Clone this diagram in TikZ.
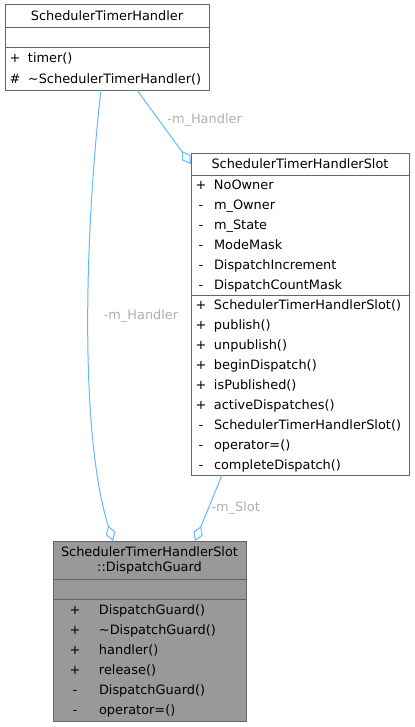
\documentclass[tikz,border=0pt]{standalone}
\usepackage{fontspec}
\setmainfont{DejaVu Sans}
\usepackage{tikz}
\usetikzlibrary{positioning, arrows.meta}

\definecolor{boxline}{HTML}{666666}
\definecolor{guardfill}{HTML}{999999}
\definecolor{edgeblue}{HTML}{63B8FF}
\definecolor{labelgrey}{HTML}{B0B0B0}

\newcommand{\memberfont}{\fontsize{12.9bp}{20bp}\selectfont}
\newcommand{\titlefont}{\fontsize{12.9bp}{15bp}\selectfont}
\newcommand{\mem}[2]{\hspace*{4bp}\makebox[12bp]{#1}\hspace{7bp}#2\strut}
\newcommand{\gmem}[2]{\hspace*{16bp}\makebox[12bp]{#1}\hspace{18bp}#2\strut}

\begin{document}
\begin{tikzpicture}[x=1bp, y=-1bp]
\tikzstyle{part} = [rectangle, draw=boxline, fill=white, line width=1bp, inner sep=0pt, outer sep=0pt, font=\memberfont, align=left]
\tikzstyle{head} = [part, align=center]
\tikzstyle{guardpart} = [part, fill=guardfill]
\tikzstyle{guardhead} = [head, fill=guardfill, font=\titlefont]
\tikzstyle{assoc} = [draw=edgeblue, line width=1bp, -{Diamond[open, length=16bp, width=10bp]}]
\tikzstyle{role} = [font=\memberfont, text=labelgrey, inner sep=0pt, anchor=west]

\useasboundingbox (0,0) rectangle (414,727);

\node (h-title) [head, text width=204bp, minimum height=23bp, anchor=north west] at (5,5) {SchedulerTimerHandler\strut};
\node (h-attr)  [part, text width=204bp, minimum height=20bp, below=0pt of h-title] {};
\node (h-ops)   [part, text width=204bp, minimum height=42bp, below=0pt of h-attr] {\mem{+}{timer()}\\\mem{\#}{\textasciitilde SchedulerTimerHandler()}};

\node (s-title) [head, text width=218bp, minimum height=22bp, anchor=north west] at (191,153) {SchedulerTimerHandlerSlot\strut};
\node (s-attr)  [part, text width=218bp, minimum height=120bp, below=0pt of s-title] {\mem{+}{NoOwner}\\\mem{-}{m\_Owner}\\\mem{-}{m\_State}\\\mem{-}{ModeMask}\\\mem{-}{DispatchIncrement}\\\mem{-}{DispatchCountMask}};
\node (s-ops)   [part, text width=218bp, minimum height=180bp, below=0pt of s-attr] {\mem{+}{SchedulerTimerHandlerSlot()}\\\mem{+}{publish()}\\\mem{+}{unpublish()}\\\mem{+}{beginDispatch()}\\\mem{+}{isPublished()}\\\mem{+}{activeDispatches()}\\\mem{-}{SchedulerTimerHandlerSlot()}\\\mem{-}{operator=()}\\\mem{-}{completeDispatch()}};

\node (g-title) [guardhead, text width=193bp, minimum height=38bp, anchor=north west] at (53,541) {SchedulerTimerHandlerSlot\\::DispatchGuard};
\node (g-attr)  [guardpart, text width=193bp, minimum height=20bp, below=0pt of g-title] {};
\node (g-ops)   [guardpart, text width=193bp, minimum height=122bp, below=0pt of g-attr] {\gmem{+}{DispatchGuard()}\\\gmem{+}{\textasciitilde DispatchGuard()}\\\gmem{+}{handler()}\\\gmem{+}{release()}\\\gmem{-}{DispatchGuard()}\\\gmem{-}{operator=()}};

\draw [assoc] ([xshift=-6bp]h-ops.south) .. controls (86,220) and (78,430) .. ([xshift=-36.5bp]g-title.north) node[role, pos=0.5, xshift=15bp, yshift=7bp] {-m\_Handler};
\draw [assoc] ([xshift=30bp]h-ops.south) -- node[role, pos=0.405, xshift=8bp] {-m\_Handler} (s-title.west);
\draw [assoc] ([xshift=-78bp]s-ops.south) -- node[role, pos=0.5, xshift=2.5bp] {-m\_Slot} ([xshift=45.5bp]g-title.north);

\end{tikzpicture}
\end{document}
